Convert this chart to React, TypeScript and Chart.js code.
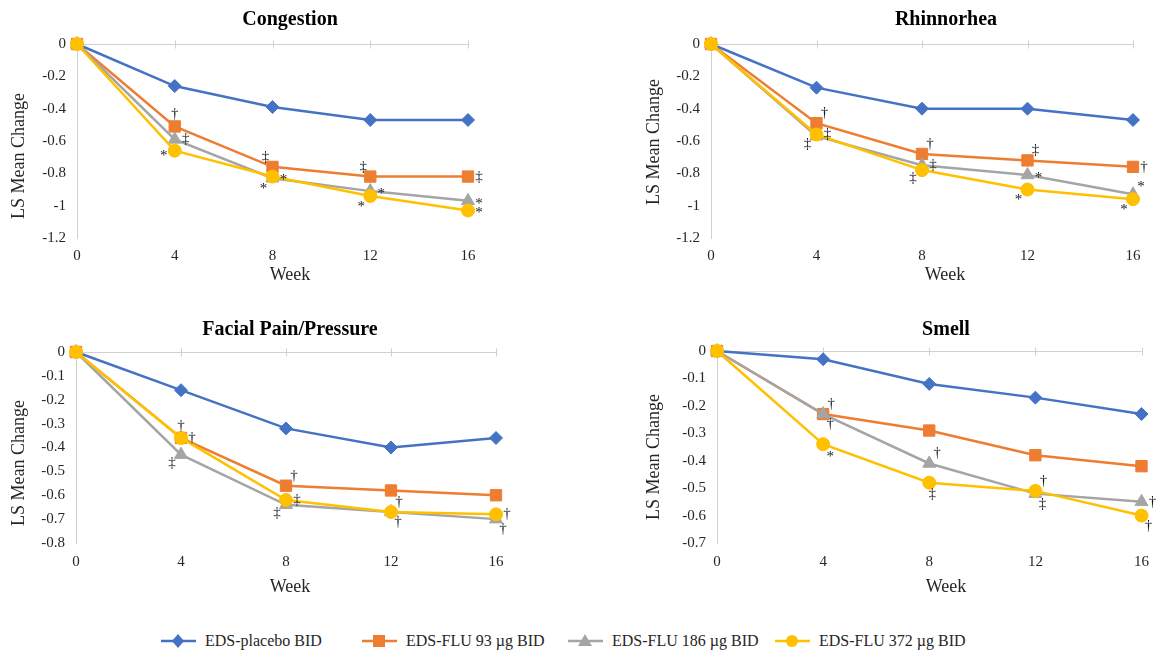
import React, { useEffect, useRef } from 'react';
import { Chart, registerables } from 'chart.js';

Chart.register(...registerables);

// ---------------- data ----------------
const weeks = ['0', '4', '8', '12', '16'];
const seriesNames = ['EDS-placebo BID', 'EDS-FLU 93 µg BID', 'EDS-FLU 186 µg BID', 'EDS-FLU 372 µg BID'];

// Congestion
const congestionPlacebo = [0, -0.26, -0.39, -0.47, -0.47];
const congestion93 = [0, -0.51, -0.76, -0.82, -0.82];
const congestion186 = [0, -0.59, -0.83, -0.91, -0.97];
const congestion372 = [0, -0.66, -0.82, -0.94, -1.03];
const congestionMarks93 = ['', '†', '‡', '‡', '‡'];
const congestionMarks186 = ['', '‡', '*', '*', '*'];
const congestionMarks372 = ['', '*', '*', '*', '*'];

// Rhinnorhea
const rhinPlacebo = [0, -0.27, -0.4, -0.4, -0.47];
const rhin93 = [0, -0.49, -0.68, -0.72, -0.76];
const rhin186 = [0, -0.57, -0.75, -0.81, -0.93];
const rhin372 = [0, -0.56, -0.78, -0.9, -0.96];
const rhinMarks93 = ['', '†', '†', '‡', '†'];
const rhinMarks186 = ['', '‡', '‡', '*', '*'];
const rhinMarks372 = ['', '‡', '‡', '*', '*'];

// Facial Pain/Pressure
const facialPlacebo = [0, -0.16, -0.32, -0.4, -0.36];
const facial93 = [0, -0.36, -0.56, -0.58, -0.6];
const facial186 = [0, -0.43, -0.64, -0.67, -0.7];
const facial372 = [0, -0.36, -0.62, -0.67, -0.68];
const facialMarks93 = ['', '†', '†', '', ''];
const facialMarks186 = ['', '‡', '‡', '†', '†'];
const facialMarks372 = ['', '†', '‡', '†', '†'];

// Smell
const smellPlacebo = [0, -0.03, -0.12, -0.17, -0.23];
const smell93 = [0, -0.23, -0.29, -0.38, -0.42];
const smell186 = [0, -0.23, -0.41, -0.52, -0.55];
const smell372 = [0, -0.34, -0.48, -0.51, -0.6];
const smellMarks93 = ['', '†', '', '', ''];
const smellMarks186 = ['', '†', '†', '‡', '†'];
const smellMarks372 = ['', '*', '‡', '†', '†'];

// ---------------- styles / layout ----------------
const seriesColors = ['#4472C4', '#ED7D31', '#A5A5A5', '#FFC000'];
const seriesPointStyles = ['rectRot', 'rect', 'triangle', 'circle'];
const seriesPointRadius = [6.5, 8, 7.5, 6.5];
const FONT = '"Liberation Serif", "Times New Roman", serif';

// where each significance mark sits relative to its point
const congestionPlace = [
  ['', '', '', '', ''],
  ['', 'a', 'al', 'al', 'r'],
  ['', 'r', 'bl', 'r', 'r'],
  ['', 'l', 'r', 'bl', 'r'],
];
const rhinPlace = [
  ['', '', '', '', ''],
  ['', 'ar', 'ar', 'ar', 'r'],
  ['', 'bl', 'r', 'r', 'ar'],
  ['', 'r', 'bl', 'bl', 'bl'],
];
const facialPlace = [
  ['', '', '', '', ''],
  ['', 'a', 'ar', '', ''],
  ['', 'bl', 'bl', 'br', 'br'],
  ['', 'r', 'r', 'ar', 'r'],
];
const smellPlace = [
  ['', '', '', '', ''],
  ['', 'ar', '', '', ''],
  ['', 'br', 'ar', 'br', 'r'],
  ['', 'br', 'b', 'ar', 'br'],
];

const PLACE: Record<string, [number, number]> = {
  a: [0, -12],
  ar: [8, -10],
  al: [-7, -10],
  r: [11, 0],
  br: [7, 10],
  bl: [-9, 8],
  l: [-11, 2],
  b: [3, 11],
};

const panels = [
  {
    title: 'Congestion',
    series: [congestionPlacebo, congestion93, congestion186, congestion372],
    marks: [[], congestionMarks93, congestionMarks186, congestionMarks372],
    places: congestionPlace,
    min: -1.2, step: 0.2,
    box: { left: 0, top: 0, w: 580, h: 300 },
    area: { l: 77, t: 44, r: 468, b: 238 },
    text: { titleX: 290, titleY: 20, yTitleX: 19, yTitleY: 156, weekX: 290, weekY: 275 },
    tickPad: 9,
  },
  {
    title: 'Rhinnorhea',
    series: [rhinPlacebo, rhin93, rhin186, rhin372],
    marks: [[], rhinMarks93, rhinMarks186, rhinMarks372],
    places: rhinPlace,
    min: -1.2, step: 0.2,
    box: { left: 580, top: 0, w: 579, h: 300 },
    area: { l: 131, t: 44, r: 553, b: 238 },
    text: { titleX: 366, titleY: 20, yTitleX: 74, yTitleY: 142, weekX: 365, weekY: 275 },
    tickPad: 9,
  },
  {
    title: 'Facial Pain/Pressure',
    series: [facialPlacebo, facial93, facial186, facial372],
    marks: [[], facialMarks93, facialMarks186, facialMarks372],
    places: facialPlace,
    min: -0.8, step: 0.1,
    box: { left: 0, top: 310, w: 580, h: 300 },
    area: { l: 76, t: 42, r: 496, b: 233 },
    text: { titleX: 290, titleY: 20, yTitleX: 19, yTitleY: 153, weekX: 290, weekY: 277 },
    tickPad: 10,
  },
  {
    title: 'Smell',
    series: [smellPlacebo, smell93, smell186, smell372],
    marks: [[], smellMarks93, smellMarks186, smellMarks372],
    places: smellPlace,
    min: -0.7, step: 0.1,
    box: { left: 580, top: 310, w: 579, h: 300 },
    area: { l: 137, t: 41, r: 565, b: 233 },
    text: { titleX: 366, titleY: 20, yTitleX: 74, yTitleY: 147, weekX: 366, weekY: 277 },
    tickPad: 10,
  },
];

const legendX = [161, 362, 568, 775];
const legendY = 641;

// ---------------- plugins ----------------
const zeroAxisPlugin = {
  id: 'zeroAxis',
  beforeDatasetsDraw(chart: any) {
    const { ctx, scales } = chart;
    const x = scales.x;
    const y = scales.y;
    const py = Math.round(y.getPixelForValue(0)) + 0.5;
    ctx.save();
    ctx.strokeStyle = '#D0D0D0';
    ctx.lineWidth = 1;
    ctx.beginPath();
    ctx.moveTo(x.left, py);
    ctx.lineTo(x.right, py);
    x.ticks.forEach((_t: any, i: number) => {
      if (i === 0) return;
      const px = Math.round(x.getPixelForTick(i)) + 0.5;
      ctx.moveTo(px, py - 4);
      ctx.lineTo(px, py + 4);
    });
    ctx.stroke();
    ctx.restore();
  },
};

const sigMarksPlugin = {
  id: 'sigMarks',
  afterDatasetsDraw(chart: any) {
    const ctx = chart.ctx;
    ctx.save();
    ctx.font = `15px ${FONT}`;
    ctx.fillStyle = '#1a1a1a';
    ctx.textAlign = 'center';
    ctx.textBaseline = 'middle';
    chart.data.datasets.forEach((ds: any, i: number) => {
      const meta = chart.getDatasetMeta(i);
      (ds.marks || []).forEach((m: string, j: number) => {
        if (!m) return;
        const pt = meta.data[j];
        const off = PLACE[ds.places[j]] || [10, 0];
        ctx.fillText(m, pt.x + off[0], pt.y + off[1] + (m === '*' ? 3 : 0));
      });
    });
    ctx.restore();
  },
};

const panelTextPlugin = {
  id: 'panelText',
  afterDraw(chart: any, _args: any, opts: any) {
    const ctx = chart.ctx;
    ctx.save();
    ctx.textAlign = 'center';
    ctx.textBaseline = 'middle';
    ctx.fillStyle = '#000000';
    ctx.font = `bold 20px ${FONT}`;
    ctx.fillText(opts.title, opts.titleX, opts.titleY);
    ctx.fillStyle = '#262626';
    ctx.font = `18px ${FONT}`;
    ctx.fillText('Week', opts.weekX, opts.weekY);
    ctx.translate(opts.yTitleX, opts.yTitleY);
    ctx.rotate(-Math.PI / 2);
    ctx.fillText('LS Mean Change', 0, 0);
    ctx.restore();
  },
};

function fmtTick(v: number) {
  const r = Math.round(v * 10) / 10;
  return r === 0 ? '0' : String(r);
}

function Panel({ p }: { p: any }) {
  const ref = useRef<HTMLCanvasElement>(null);
  useEffect(() => {
    const chart = new Chart(ref.current as HTMLCanvasElement, {
      type: 'line',
      data: {
        labels: weeks,
        datasets: p.series.map((vals: number[], i: number) => ({
          label: seriesNames[i],
          data: vals,
          borderColor: seriesColors[i],
          backgroundColor: seriesColors[i],
          pointBackgroundColor: seriesColors[i],
          pointBorderColor: seriesColors[i],
          pointStyle: seriesPointStyles[i],
          pointRadius: seriesPointRadius[i],
          pointBorderWidth: 1,
          borderWidth: 2.5,
          tension: 0,
          fill: false,
          clip: false,
          order: 4 - i,
          marks: p.marks[i],
          places: p.places[i],
        })),
      } as any,
      options: {
        animation: false,
        responsive: false,
        maintainAspectRatio: false,
        layout: { padding: { left: 0, top: p.area.t, right: p.box.w - p.area.r, bottom: 0 } },
        plugins: {
          legend: { display: false },
          tooltip: { enabled: false },
          title: { display: false },
          panelText: { title: p.title, ...p.text },
        } as any,
        scales: {
          x: {
            type: 'category',
            offset: false,
            grid: { display: false, drawTicks: false },
            border: { display: false },
            ticks: {
              padding: p.tickPad,
              color: '#262626',
              font: { family: FONT, size: 15 },
              maxRotation: 0,
              autoSkip: false,
            },
            afterFit: (s: any) => { s.height = p.box.h - p.area.b; },
          },
          y: {
            type: 'linear',
            min: p.min,
            max: 0,
            grid: { display: false, drawTicks: false },
            border: { display: true, color: '#D0D0D0', width: 1 },
            ticks: {
              stepSize: p.step,
              padding: 11,
              color: '#262626',
              font: { family: FONT, size: 15 },
              callback: (v: any) => fmtTick(Number(v)),
            },
            afterFit: (s: any) => { s.width = p.area.l; },
          },
        },
      } as any,
      plugins: [zeroAxisPlugin, sigMarksPlugin, panelTextPlugin],
    });
    return () => chart.destroy();
  }, []);
  return (
    <canvas
      ref={ref}
      width={p.box.w}
      height={p.box.h}
      style={{ position: 'absolute', left: p.box.left, top: p.box.top, width: p.box.w, height: p.box.h }}
    />
  );
}

function LegendMarker({ i }: { i: number }) {
  const c = seriesColors[i];
  const cx = 17;
  const cy = 9;
  let shape: any = null;
  if (i === 0) shape = <polygon points={`${cx},${cy - 7} ${cx + 6},${cy} ${cx},${cy + 7} ${cx - 6},${cy}`} fill={c} />;
  if (i === 1) shape = <rect x={cx - 6} y={cy - 6} width={12} height={12} fill={c} />;
  if (i === 2) shape = <polygon points={`${cx},${cy - 7} ${cx + 7},${cy + 5} ${cx - 7},${cy + 5}`} fill={c} />;
  if (i === 3) shape = <circle cx={cx} cy={cy} r={6} fill={c} />;
  return (
    <svg width={35} height={18} style={{ display: 'block' }}>
      <line x1={0} y1={cy} x2={35} y2={cy} stroke={c} strokeWidth={2.5} />
      {shape}
    </svg>
  );
}

export default function App() {
  return (
    <div style={{ position: 'fixed', left: 0, top: 0, width: 1159, height: 658, background: '#ffffff', overflow: 'hidden' }}>
      {panels.map((p, i) => (
        <Panel key={i} p={p} />
      ))}
      {seriesNames.map((n, i) => (
        <div
          key={n}
          style={{
            position: 'absolute',
            left: legendX[i],
            top: legendY - 11,
            height: 22,
            display: 'flex',
            alignItems: 'center',
            whiteSpace: 'nowrap',
          }}
        >
          <LegendMarker i={i} />
          <span style={{ marginLeft: 9, fontFamily: FONT, fontSize: 16, color: '#262626' }}>{n}</span>
        </div>
      ))}
    </div>
  );
}
